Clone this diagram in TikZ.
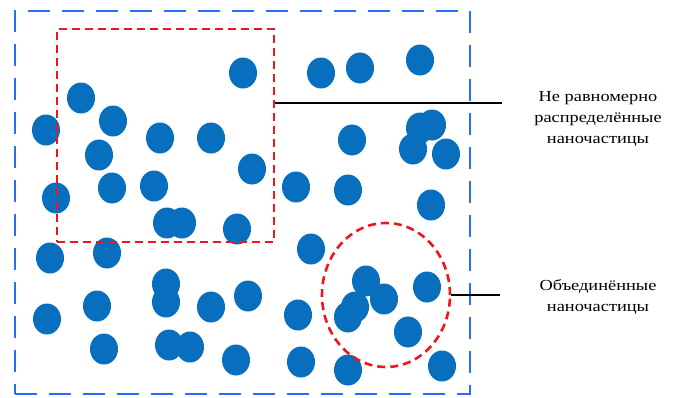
\documentclass[tikz,border=0pt]{standalone}
\usepackage{fontspec}
\setmainfont{Liberation Serif}[FakeStretch=1.2]
\usetikzlibrary{shapes.geometric}
\definecolor{pblue}{RGB}{8,110,190}
\definecolor{fblue}{RGB}{40,110,245}
\definecolor{fred}{RGB}{240,20,30}
\tikzset{
  particle/.style={ellipse,fill=pblue,draw=none,minimum width=28pt,minimum height=31pt,inner sep=0pt},
  frame/.style={draw=fblue,line width=2.7pt,dash pattern=on 22pt off 12pt},
  cluster/.style={draw=fred,line width=2.6pt,dash pattern=on 8pt off 5pt},
  leader/.style={draw=black,line width=1.6pt},
  lbl/.style={align=center,font=\fontsize{15.3pt}{21pt}\selectfont,inner sep=0pt}
}
\begin{document}
\begin{tikzpicture}[x=1pt,y=-1pt]
\useasboundingbox (0,0) rectangle (678,397);
% particles
\foreach [count=\i] \px/\py in {243/73,321/73,360/68,420/60,81/98,113/121,46/130,160/138,211/138,
  352/140,420/128,432/125,413/149,446/154,99/155,252/169,296/187,112/188,154/186,348/190,
  56/198,431/205,167/223,182/223,237/229,50/258,107/253,311/249,166/284,166/302,
  97/306,47/319,211/307,248/296,298/315,366/281,384/299,355/307,348/317,427/287,
  408/332,104/349,169/345,190/347,236/360,301/362,348/370,442/366}
  \node[particle] (p\i) at (\px,\py) {};
% outer frame
\node[frame,minimum width=455pt,minimum height=383pt,inner sep=0pt] (outer) at (242.5,202.5) {};
% non-uniform region
\node[cluster,rectangle,minimum width=217pt,minimum height=213pt,inner sep=0pt] (redbox) at (165.5,135.5) {};
% agglomerate region
\node[cluster,ellipse,minimum width=128pt,minimum height=144pt,inner sep=0pt] (redcirc) at (386,295) {};
% labels
\node[lbl] (lab1) at (598,119) {Не равномерно\\распределённые\\наночастицы};
\node[lbl] (lab2) at (598,297) {Объединённые\\наночастицы};
\coordinate (c1) at (502,103);
\coordinate (c2) at (500,295);
\draw[leader] (redbox.east |- c1) -- (c1);
\draw[leader] (redcirc.east) -- (c2);
\end{tikzpicture}
\end{document}
